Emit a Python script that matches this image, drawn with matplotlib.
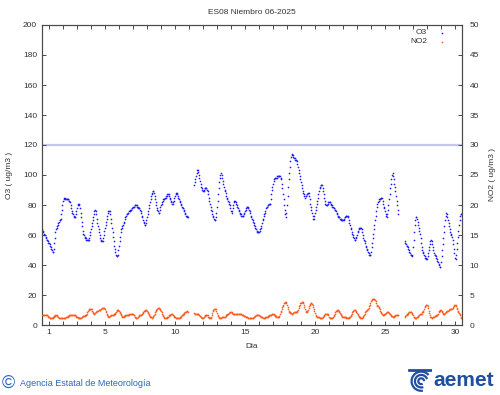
import numpy as np
import matplotlib.pyplot as plt
from matplotlib.patches import Arc

plt.rcParams['font.family'] = ['Liberation Sans', 'DejaVu Sans']

NA = np.nan

title = 'ES08 Niembro 06-2025'
days = list(range(1, 31))
labelled_days = [1, 5, 10, 15, 20, 25, 30]
o3_limit = 120

# hourly O3 (ug/m3), one row per day, hours 0..23
o3_hourly = [
    64, 63, 62, 61, 60, 60, 59, 58, 57, 57, 56, 55, 55, 54, 53, 52, 51, 50, 49, 49, 51, 55, 58, 62,
    64, 65, 66, 67, 68, 69, 70, 70, 71, 74, 77, 80, 83, 84, 85, 85, 84, 84, 84, 84, 84, 84, 83, 83,
    82, 80, 78, 76, 75, 74, 73, 72, 72, 72, 74, 76, 78, 80, 81, 81, 80, 78, 75, 72, 69, 66, 63, 61,
    60, 59, 58, 58, 57, 57, 57, 57, 57, 58, 60, 62, 64, 66, 68, 70, 72, 74, 76, 77, 76, 74, 71, 68,
    66, 64, 62, 60, 58, 57, 56, 56, 56, 58, 60, 63, 65, 67, 69, 71, 73, 75, 76, 76, 76, 74, 71, 68,
    65, 62, 59, 56, 53, 51, 49, 47, 46, 46, 47, 50, 53, 56, 59, 62, 64, 65, 66, 67, 68, 69, 71, 72,
    73, 74, 74, 75, 75, 76, 76, 77, 77, 77, 78, 78, 79, 79, 79, 80, 80, 80, 80, 79, 79, 78, 78, 78,
    77, 76, 75, 73, 72, 70, 69, 68, 67, 67, 68, 70, 72, 74, 76, 78, 80, 82, 84, 86, 87, 88, 89, 89,
    88, 86, 84, 82, 80, 78, 77, 76, 75, 75, 77, 79, 80, 81, 82, 83, 84, 84, 84, 85, 85, 86, 86, 87,
    87, 87, 86, 85, 84, 83, 82, 81, 81, 82, 83, 85, 86, 87, 88, 88, 87, 86, 85, 84, 83, 82, 81, 80,
    79, 78, 78, 77, 76, 75, 74, 73, 73, 72, 72, NA, NA, NA, NA, NA, NA, NA, NA, NA, NA, 93, 95, 97,
    99, 101, 103, 103, 102, 100, 98, 96, 94, 92, 91, 90, 89, 89, 90, 91, 91, 91, 91, 90, 89, 87, 85, 83,
    81, 79, 77, 76, 74, 73, 72, 71, 70, 70, 72, 75, 79, 83, 87, 91, 95, 98, 100, 101, 100, 98, 96, 94,
    92, 90, 89, 88, 86, 85, 84, 83, 82, 81, 80, 78, 76, 75, 76, 78, 80, 82, 83, 83, 82, 81, 80, 79,
    78, 77, 76, 75, 74, 74, 73, 73, 73, 73, 74, 75, 76, 77, 78, 79, 79, 79, 78, 77, 76, 75, 73, 72,
    71, 70, 69, 68, 67, 66, 65, 64, 63, 62, 62, 62, 62, 63, 64, 65, 66, 68, 70, 71, 73, 74, 75, 76,
    78, 79, 79, 80, 80, 81, 81, 81, 84, 87, 90, 92, 94, 96, 97, 98, 98, 98, 98, 99, 99, 99, 99, 99,
    99, 98, 97, 94, 91, 87, 84, 80, 77, 74, 72, 75, 80, 86, 92, 97, 101, 105, 109, 112, 114, 113, 113, 112,
    111, 111, 110, 110, 110, 109, 107, 105, 103, 101, 99, 97, 95, 93, 91, 89, 88, 87, 86, 85, 86, 86, 87, 87,
    88, 88, 86, 84, 81, 79, 77, 75, 73, 71, 71, 73, 75, 77, 79, 81, 83, 85, 87, 89, 91, 92, 93, 93,
    93, 91, 89, 87, 85, 83, 81, 80, 80, 80, 81, 82, 82, 82, 82, 81, 80, 80, 79, 79, 78, 78, 77, 77,
    76, 75, 74, 73, 72, 72, 72, 71, 71, 70, 70, 70, 70, 70, 71, 72, 72, 73, 73, 73, 73, 72, 70, 68,
    67, 65, 64, 62, 61, 60, 59, 58, 57, 57, 58, 59, 60, 62, 63, 64, 65, 65, 65, 65, 64, 62, 60, 58,
    57, 56, 55, 53, 52, 51, 50, 49, 48, 47, 47, 47, 49, 52, 55, 58, 61, 64, 67, 70, 73, 76, 79, 81,
    82, 83, 84, 84, 84, 85, 85, 85, 83, 81, 79, 78, 76, 74, 73, 72, 74, 77, 80, 84, 87, 91, 94, 97,
    100, 101, 99, 97, 94, 92, 89, 86, 83, 80, 77, 74, NA, NA, NA, NA, NA, NA, NA, NA, NA, NA, 56, 55,
    54, 53, 53, 52, 51, 50, 49, 48, 47, 47, 46, 47, 52, 57, 62, 67, 70, 72, 72, 71, 69, 67, 65, 63,
    61, 58, 55, 52, 50, 49, 48, 47, 46, 45, 45, 44, 44, 46, 48, 50, 52, 54, 56, 57, 56, 54, 52, 50,
    48, 47, 47, 46, 45, 44, 43, 42, 41, 40, 39, 39, 42, 46, 50, 54, 58, 62, 66, 70, 73, 75, 74, 72,
    70, 68, 66, 64, 62, 61, 60, 59, 57, 54, 51, 48, 45, 44, 47, 51, 55, 59, 63, 67, 70, 73, 74, 74,
]

# hourly NO2 (ug/m3), right axis
no2_hourly = [
    1.6, 1.6, 1.6, 1.7, 1.7, 1.7, 1.7, 1.7, 1.7, 1.6, 1.5, 1.4, 1.3, 1.2, 1.2, 1.1, 1.1, 1.1, 1.2, 1.3, 1.4, 1.5, 1.5, 1.6,
    1.6, 1.6, 1.5, 1.4, 1.3, 1.2, 1.1, 1.1, 1.1, 1.1, 1.2, 1.2, 1.2, 1.2, 1.2, 1.2, 1.2, 1.3, 1.3, 1.4, 1.4, 1.5, 1.5, 1.6,
    1.6, 1.6, 1.7, 1.7, 1.7, 1.6, 1.6, 1.6, 1.6, 1.6, 1.5, 1.4, 1.3, 1.3, 1.2, 1.2, 1.1, 1.1, 1.1, 1.2, 1.3, 1.4, 1.5, 1.5,
    1.5, 1.5, 1.6, 1.6, 1.7, 1.9, 2.1, 2.3, 2.5, 2.6, 2.7, 2.7, 2.7, 2.6, 2.4, 2.2, 2.0, 1.9, 1.9, 2.0, 2.1, 2.2, 2.3, 2.4,
    2.4, 2.5, 2.5, 2.5, 2.5, 2.6, 2.7, 2.8, 2.8, 2.9, 2.9, 2.9, 2.7, 2.4, 2.1, 1.8, 1.6, 1.5, 1.4, 1.4, 1.5, 1.5, 1.6, 1.6,
    1.6, 1.7, 1.7, 1.7, 1.8, 1.9, 2.0, 2.2, 2.4, 2.5, 2.5, 2.5, 2.4, 2.2, 2.0, 1.8, 1.6, 1.5, 1.4, 1.4, 1.4, 1.5, 1.5, 1.6,
    1.6, 1.6, 1.7, 1.7, 1.7, 1.7, 1.8, 1.8, 1.9, 1.9, 1.9, 1.9, 1.8, 1.7, 1.6, 1.4, 1.3, 1.2, 1.2, 1.2, 1.3, 1.4, 1.5, 1.6,
    1.6, 1.7, 1.7, 1.8, 1.9, 2.0, 2.2, 2.3, 2.4, 2.5, 2.5, 2.5, 2.4, 2.2, 2.0, 1.8, 1.6, 1.5, 1.4, 1.3, 1.2, 1.2, 1.3, 1.5,
    1.7, 1.9, 2.1, 2.3, 2.5, 2.6, 2.7, 2.8, 2.8, 2.8, 2.7, 2.5, 2.3, 2.1, 1.9, 1.7, 1.5, 1.3, 1.2, 1.1, 1.1, 1.1, 1.2, 1.3,
    1.4, 1.5, 1.6, 1.7, 1.7, 1.8, 1.8, 1.8, 1.7, 1.6, 1.5, 1.4, 1.3, 1.2, 1.2, 1.1, 1.1, 1.1, 1.1, 1.1, 1.2, 1.3, 1.4, 1.5,
    1.6, 1.7, 1.8, 1.9, 2.0, 2.1, 2.2, 2.2, 2.3, 2.3, 2.2, NA, NA, NA, NA, NA, NA, NA, NA, NA, NA, 2.0, 1.9, 1.9,
    1.9, 1.8, 1.8, 1.8, 1.8, 1.7, 1.6, 1.5, 1.4, 1.3, 1.2, 1.2, 1.2, 1.3, 1.4, 1.5, 1.6, 1.7, 1.7, 1.7, 1.6, 1.4, 1.3, 1.2,
    1.1, 1.2, 1.4, 1.7, 2.0, 2.3, 2.5, 2.7, 2.7, 2.7, 2.6, 2.3, 2.0, 1.7, 1.5, 1.3, 1.2, 1.2, 1.2, 1.2, 1.3, 1.3, 1.4, 1.4,
    1.4, 1.4, 1.4, 1.5, 1.6, 1.7, 1.8, 1.9, 2.0, 2.0, 2.1, 2.1, 2.1, 2.1, 2.0, 1.9, 1.8, 1.8, 1.8, 1.8, 1.8, 1.8, 1.8, 1.8,
    1.8, 1.8, 1.8, 1.8, 1.8, 1.8, 1.8, 1.7, 1.6, 1.6, 1.5, 1.5, 1.5, 1.4, 1.4, 1.3, 1.3, 1.2, 1.2, 1.2, 1.1, 1.1, 1.1, 1.1,
    1.1, 1.2, 1.2, 1.3, 1.4, 1.5, 1.5, 1.6, 1.6, 1.7, 1.7, 1.7, 1.6, 1.5, 1.5, 1.4, 1.4, 1.3, 1.3, 1.2, 1.2, 1.2, 1.2, 1.3,
    1.3, 1.3, 1.4, 1.4, 1.5, 1.5, 1.6, 1.6, 1.7, 1.7, 1.8, 1.8, 1.8, 1.8, 1.7, 1.6, 1.5, 1.5, 1.4, 1.4, 1.4, 1.4, 1.4, 1.5,
    1.8, 2.1, 2.4, 2.7, 3.0, 3.2, 3.4, 3.6, 3.7, 3.8, 3.8, 3.7, 3.4, 3.0, 2.7, 2.4, 2.2, 2.1, 2.0, 2.0, 1.9, 1.9, 2.0, 2.0,
    2.1, 2.1, 2.2, 2.2, 2.2, 2.2, 2.3, 2.5, 2.8, 3.1, 3.4, 3.6, 3.7, 3.8, 3.8, 3.8, 3.6, 3.3, 3.0, 2.7, 2.4, 2.2, 2.2, 2.3,
    2.5, 2.8, 3.1, 3.3, 3.5, 3.6, 3.6, 3.5, 3.3, 3.0, 2.6, 2.3, 2.0, 1.7, 1.5, 1.4, 1.4, 1.3, 1.3, 1.3, 1.2, 1.2, 1.2, 1.2,
    1.2, 1.3, 1.4, 1.5, 1.7, 1.8, 1.9, 1.9, 1.9, 1.9, 1.8, 1.6, 1.4, 1.2, 1.1, 1.1, 1.1, 1.1, 1.2, 1.3, 1.5, 1.7, 1.9, 2.1,
    2.3, 2.4, 2.5, 2.5, 2.5, 2.4, 2.2, 2.0, 1.8, 1.6, 1.5, 1.4, 1.4, 1.4, 1.4, 1.3, 1.3, 1.3, 1.2, 1.2, 1.2, 1.2, 1.2, 1.3,
    1.4, 1.5, 1.7, 1.9, 2.1, 2.3, 2.4, 2.5, 2.5, 2.5, 2.4, 2.2, 2.0, 1.8, 1.6, 1.5, 1.4, 1.3, 1.2, 1.2, 1.2, 1.2, 1.3, 1.5,
    1.7, 1.9, 2.1, 2.3, 2.4, 2.5, 2.5, 2.6, 2.8, 3.1, 3.4, 3.7, 4.0, 4.2, 4.3, 4.3, 4.3, 4.3, 4.3, 4.2, 4.0, 3.7, 3.4, 3.2,
    3.1, 3.0, 2.8, 2.6, 2.4, 2.2, 2.0, 1.8, 1.7, 1.7, 1.7, 1.8, 1.9, 2.0, 2.0, 2.1, 2.1, 2.1, 2.1, 2.0, 1.9, 1.8, 1.6, 1.5,
    1.5, 1.4, 1.4, 1.4, 1.5, 1.5, 1.6, 1.6, 1.7, 1.7, 1.7, 1.7, NA, NA, NA, NA, NA, NA, NA, NA, NA, NA, 1.4, 1.5,
    1.6, 1.7, 1.8, 1.9, 2.0, 2.1, 2.2, 2.2, 2.2, 2.1, 2.0, 1.8, 1.6, 1.4, 1.3, 1.2, 1.2, 1.2, 1.2, 1.3, 1.4, 1.5, 1.6, 1.7,
    1.8, 1.9, 1.9, 1.9, 2.1, 2.2, 2.4, 2.7, 3.0, 3.2, 3.3, 3.3, 3.3, 3.1, 2.8, 2.4, 2.0, 1.7, 1.4, 1.3, 1.2, 1.2, 1.3, 1.4,
    1.4, 1.5, 1.5, 1.5, 1.6, 1.6, 1.7, 1.9, 2.1, 2.3, 2.4, 2.5, 2.5, 2.4, 2.2, 2.0, 1.9, 1.9, 1.9, 2.0, 2.1, 2.2, 2.3, 2.4,
    2.4, 2.5, 2.5, 2.6, 2.6, 2.6, 2.7, 2.7, 2.8, 3.0, 3.2, 3.3, 3.3, 3.3, 3.2, 2.9, 2.6, 2.3, 2.1, 2.0, 1.9, 1.6, 1.4, 1.2,
]

blue = '#1c1cff'
orange = '#ff5a1e'
txt = '#333333'
spine = '#4a4a4a'
dot = 1.2

fig = plt.figure(figsize=(5, 3.95), dpi=100)
ax = fig.add_axes([42 / 500, 70 / 395, 420 / 500, 300 / 395])
ax2 = ax.twinx()

t = 1 + np.arange(len(o3_hourly)) / 24.0

ax.axhline(o3_limit, color='#c4c4f6', lw=1.6, zorder=1)
ax.plot(t, o3_hourly, ls='none', marker='o', ms=dot, mew=0, color=blue, zorder=3)
ax2.plot(t, no2_hourly, ls='none', marker='o', ms=dot, mew=0, color=orange, zorder=3)

ax.set_xlim(1, 31)
ax.set_ylim(0, 200)
ax2.set_ylim(0, 50)

ax.set_xticks([d + 0.5 for d in days])
ax.set_xticklabels([str(d) if d in labelled_days else '' for d in days])
ax.set_yticks(range(0, 201, 20))
ax2.set_yticks(range(0, 51, 5))

ax.tick_params(axis='x', direction='in', length=3, width=0.7, color=spine,
               top=True, labelsize=6, labelcolor=txt, pad=3)
ax.tick_params(axis='y', direction='in', length=3, width=0.7, color=spine,
               right=False, labelsize=6, labelcolor=txt, pad=3.5)
ax2.tick_params(axis='y', direction='in', length=3, width=0.7, color=spine,
                labelsize=6, labelcolor=txt, pad=5.5)
ax2.tick_params(axis='x', bottom=False, top=False)

for a in (ax, ax2):
    for s in a.spines.values():
        s.set_color(spine)
        s.set_linewidth(0.8)

fig.text(252 / 500, 1 - 12 / 395, title, ha='center', va='center', fontsize=6, color=txt)
fig.text(252 / 500, 1 - 346 / 395, 'Dia', ha='center', va='center', fontsize=6, color=txt)
fig.text(10 / 500, 1 - 175 / 395, 'O3 ( ug/m3 )', rotation=90, ha='center', va='center',
         fontsize=6, color=txt)
fig.text(492 / 500, 1 - 175 / 395, 'NO2 ( ug/m3 )', rotation=90, ha='center', va='center',
         fontsize=6, color=txt)

# legend, gnuplot style
for name, col, ypix in [('O3', blue, 33), ('NO2', orange, 42)]:
    ya = (325 - ypix) / 300
    ax2.text((427 - 42) / 420, ya, name, transform=ax2.transAxes, ha='right', va='center',
             fontsize=6, color=txt)
    ax2.plot([(442 - 42) / 420], [ya], transform=ax2.transAxes, ls='none', marker='o',
             ms=dot, mew=0, color=col, clip_on=False)

# footer
foot = '#2f64c0'
fig.text(2 / 500, 1 - 383 / 395, '\u00a9', ha='left', va='center', fontsize=13, color=foot)
fig.text(20 / 500, 1 - 383 / 395, 'Agencia Estatal de Meteorología', ha='left', va='center',
         fontsize=6.5, color=foot)

logo = '#1f4f9e'
fig.text(433 / 500, 1 - 381 / 395, 'aemet', ha='left', va='center', fontsize=15,
         fontweight='bold', color=logo)
icon = fig.add_axes([408 / 500, 3 / 395, 24 / 500, 24 / 395])
icon.set_xlim(0, 1)
icon.set_ylim(0, 1)
icon.axis('off')
for r, a1, a2 in [(0.12, 0, 300), (0.26, 20, 290), (0.4, 40, 280)]:
    icon.add_patch(Arc((0.55, 0.45), 2 * r, 2 * r, theta1=a1, theta2=a2, color=logo, lw=1.6))
icon.plot([0.05, 0.95], [0.9, 0.9], color=logo, lw=2)

fig.savefig('out.png', dpi=100)
